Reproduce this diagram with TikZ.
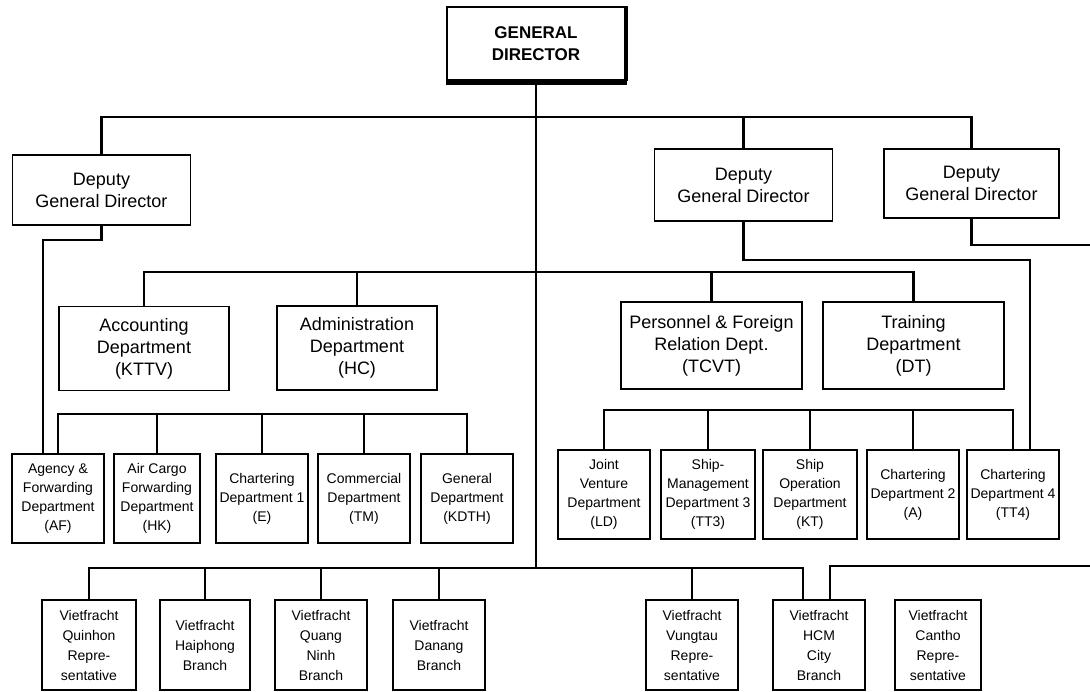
\documentclass[tikz,border=0pt]{standalone}
\usepackage{fontspec}
\setmainfont{Liberation Sans}
\usepackage{tikz}
\usetikzlibrary{positioning, calc}
\tikzstyle{chief} = [
  rectangle, draw, line width=1.6pt,
  minimum width=178pt, minimum height=73pt, align=center,
  font=\fontsize{17}{22}\selectfont\bfseries
]
\tikzstyle{deputy} = [
  rectangle, draw, line width=1.5pt,
  minimum width=178pt, minimum height=70pt, align=center,
  font=\fontsize{18}{22}\selectfont
]
\tikzstyle{dept} = [deputy, minimum height=84pt]
\tikzstyle{unit} = [
  rectangle, draw, line width=1.5pt, inner sep=1pt,
  minimum width=92pt, minimum height=89pt, align=center,
  font=\fontsize{14}{19}\selectfont
]
\tikzstyle{branch} = [unit, minimum height=90pt, font=\fontsize{14}{20}\selectfont]
\tikzstyle{link} = [line width=2.3pt]

\begin{document}
\begin{tikzpicture}[x=1pt, y=-1pt]
  \useasboundingbox (0,0) rectangle (1090,692);

  % General director
  \node[chief] (gd) at (536,43.5) {GENERAL\\DIRECTOR};
  \fill ([yshift=1pt]gd.south west) rectangle ([xshift=1pt,yshift=-4pt]gd.south east);
  \fill ([xshift=-0.5pt]gd.south east) rectangle ([xshift=2pt]gd.north east);

  % Deputies
  \node[deputy] (dgl) at (101.5,190) {Deputy\\General Director};
  \node[deputy, minimum height=72pt] (dgm) at (743.5,185) {Deputy\\General Director};
  \node[deputy, minimum width=175pt, minimum height=69pt] (dgr) at (971.5,183.5) {Deputy\\General Director};

  % Departments
  \node[dept, minimum width=170pt] (acct) at (144,348.5) {Accounting\\Department\\(KTTV)};
  \node[dept, minimum width=160pt] (admin) at (357,348) {Administration\\Department\\(HC)};
  \node[dept, minimum width=181pt, minimum height=87pt] (pers) at (711.5,345.5) {Personnel \& Foreign\\Relation Dept.\\(TCVT)};
  \node[dept, minimum width=181pt, minimum height=87pt] (train) at (913.5,345.5) {Training\\Department\\(DT)};

  % Units, left
  \node[unit] (agency) at (58,498.5) {Agency \&\\Forwarding\\Department\\(AF)};
  \node[unit, minimum width=86pt] (aircargo) at (157,498.5) {Air Cargo\\Forwarding\\Department\\(HK)};
  \node[unit] (charter1) at (262,498.5) {Chartering\\Department 1\\(E)};
  \node[unit] (commerce) at (364,498.5) {Commercial\\Department\\(TM)};
  \node[unit] (general) at (467,498.5) {General\\Department\\(KDTH)};

  % Units, right
  \node[unit] (venture) at (604,494.5) {Joint\\Venture\\Department\\(LD)};
  \node[unit, minimum width=94pt] (shipman) at (708,494.5) {Ship-\\Management\\Department 3\\(TT3)};
  \node[unit, minimum width=94pt] (shipop) at (810,494.5) {Ship\\Operation\\Department\\(KT)};
  \node[unit] (charter2) at (913,494.5) {Chartering\\Department 2\\(A)};
  \node[unit] (charter4) at (1013,494.5) {Chartering\\Department 4\\(TT4)};

  % Branches
  \node[branch, minimum width=94pt] (quinhon) at (89,645) {Vietfracht\\Quinhon\\Repre-\\sentative};
  \node[branch, minimum width=90pt] (haiphong) at (205,645) {Vietfracht\\Haiphong\\Branch};
  \node[branch] (qninh) at (321,645) {Vietfracht\\Quang\\Ninh\\Branch};
  \node[branch] (danang) at (439,645) {Vietfracht\\Danang\\Branch};
  \node[branch] (vungtau) at (692,645) {Vietfracht\\Vungtau\\Repre-\\sentative};
  \node[branch] (hcm) at (819,645) {Vietfracht\\HCM\\City\\Branch};
  \node[branch, minimum width=86pt] (cantho) at (938,645) {Vietfracht\\Cantho\\Repre-\\sentative};

  % Bus points
  \coordinate (topbus) at (536,117);
  \coordinate (deptbus) at (536,272);
  \coordinate (leftbus) at (260,414);
  \coordinate (rightbus) at (810,410);
  \coordinate (trunkend) at (536,568);
  \coordinate (edgehigh) at (1090,245);
  \coordinate (edgelow) at (1090,566);

  % Connectors
  \draw[link] (gd.south) -- (trunkend);
  \draw[link] (dgl.north) |- (topbus) -| (dgr.north);
  \draw[link] (dgm.north) -- (dgm.north |- topbus);
  \draw[link] (dgl.south) -- ++(0,14) -| ([xshift=-15pt]agency.north);
  \draw[link] (dgm.south) -- ++(0,38) -| ([xshift=17pt]charter4.north);
  \draw[link] (dgr.south) |- (edgehigh);

  \draw[link] (acct.north) |- (deptbus) -| (train.north);
  \foreach \d in {admin, pers}
    \draw[link] (\d.north) -- (\d.north |- deptbus);

  \draw[link] (agency.north) |- (leftbus) -| (general.north);
  \foreach \u in {aircargo, charter1, commerce}
    \draw[link] (\u.north) -- (\u.north |- leftbus);

  \draw[link] (venture.north) |- (rightbus) -| (charter4.north);
  \foreach \u in {shipman, shipop, charter2}
    \draw[link] (\u.north) -- (\u.north |- rightbus);

  \draw[link] (quinhon.north) |- (trunkend) -| ([xshift=-16pt]hcm.north);
  \foreach \b in {haiphong, qninh, danang, vungtau}
    \draw[link] (\b.north) -- (\b.north |- trunkend);
  \draw[link] ([xshift=11pt]hcm.north) |- (edgelow);

\end{tikzpicture}
\end{document}
